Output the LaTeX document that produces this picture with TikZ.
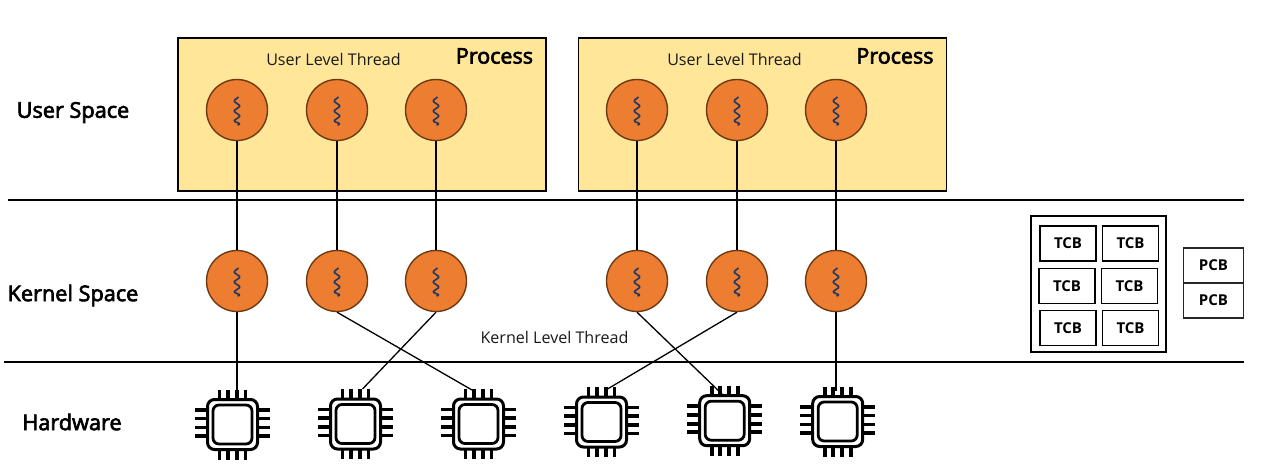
\documentclass[tikz,border=0pt]{standalone}
\usepackage{fontspec}
\setmainfont{Open Sans}
\newfontfamily\semib[FakeBold=3]{Open Sans}
\definecolor{procfill}{HTML}{FFE699}
\definecolor{thfill}{HTML}{ED7D31}
\definecolor{thline}{HTML}{6B3A12}
\definecolor{squig}{HTML}{1F3864}
\tikzset{
  x=1pt,y=-1pt,
  proc/.style={draw=black,line width=1.5pt,fill=procfill,inner sep=0,minimum width=368pt,minimum height=153pt},
  thr/.style={circle,draw=thline,line width=1.4pt,fill=thfill,inner sep=0,minimum size=61pt,
    path picture={
      \draw[squig,line width=1.6pt,line join=round,rounded corners=1.2pt,x=1pt,y=-1pt] ([shift={(1.5,-13)}]path picture bounding box.center)
        -- ++(-5,4) -- ++(7,5) -- ++(-7,5) -- ++(7,5) -- ++(-7,5) -- ++(7,3) -- ++(-3,1);
    }},
  link/.style={draw=black,line width=1.3pt},
  sep/.style={draw=black,line width=2.5pt},
  ctrl/.style={draw=black,line width=1.4pt,inner sep=0,minimum width=56pt,minimum height=35pt,font=\bfseries\fontsize{15}{17}\selectfont},
  pcbbox/.style={draw=black!85,line width=1.3pt,inner sep=0,minimum width=60pt,minimum height=35pt,font=\bfseries\fontsize{15}{17}\selectfont},
  lab/.style={font=\semib\fontsize{21.7}{24}\selectfont,inner sep=0},
  proclab/.style={font=\semib\fontsize{21.5}{26}\selectfont,inner sep=0},
  small/.style={font=\fontsize{16.1}{19}\selectfont,inner sep=0,text=black!90},
  chip/.pic={
    \foreach \s in {-13,-4.5,4.5,13}{
      \draw[black,line width=3.8pt] (\s,-35) -- (\s,-24);
      \draw[black,line width=3.8pt] (\s,24) -- (\s,35);
      \draw[black,line width=3.8pt] (-37.5,\s-1.5) -- (-24,\s-1.5);
      \draw[black,line width=3.8pt] (24,\s-1.5) -- (37.5,\s-1.5);
    }
    \draw[black,line width=3pt,fill=white,rounded corners=7pt] (-25,-25) rectangle (25,25);
    \draw[black,line width=2.8pt,fill=white,rounded corners=6pt] (-19.5,-19.5) rectangle (19.5,19.5);
    \coordinate (-top) at (0,-35);
  }
}
\begin{document}
\begin{tikzpicture}
\useasboundingbox (0,0) rectangle (1273,471);
\fill[white] (0,0) rectangle (1273,471);
% separators
\coordinate (s1a) at (8,200); \coordinate (s1b) at (1244,200);
\coordinate (s2a) at (4,362); \coordinate (s2b) at (1244,362);
\draw[sep] (s1a) -- (s1b);
\draw[sep] (s2a) -- (s2b);
% processes
\node[proc] (p1) at (362,114.5) {};
\node[proc] (p2) at (762.5,114.5) {};
\node[proclab] (pl1) at (494.5,56) {Process};
\node[proclab] (pl2) at (895,56) {Process};
\node[small] (ul1) at (333.5,59) {User Level Thread};
\node[small] (ul2) at (734.5,59) {User Level Thread};
% side labels
\node[lab] (ls) at (73,112.5) {User Space};
\node[lab] (ks) at (73,295.5) {Kernel Space};
\node[lab] (hw) at (72,422) {Hardware};
\node[small] (kl) at (554.5,337) {Kernel Level Thread};
% threads
\node[thr] (u1) at (237,110) {};
\node[thr] (u2) at (337,110) {};
\node[thr] (u3) at (436,110) {};
\node[thr] (u4) at (637,110) {};
\node[thr] (u5) at (737,110) {};
\node[thr] (u6) at (836,110) {};
\node[thr] (k1) at (237,281) {};
\node[thr] (k2) at (337,281) {};
\node[thr] (k3) at (436,281) {};
\node[thr] (k4) at (637,281) {};
\node[thr] (k5) at (737,281) {};
\node[thr] (k6) at (836,281) {};
% chips
\pic (c1) at (232.5,424.5) {chip};
\pic (c2) at (355.5,424) {chip};
\pic (c3) at (478.5,424) {chip};
\pic (c4) at (601.5,422) {chip};
\pic (c5) at (724.7,420.7) {chip};
\pic (c6) at (837.7,421.5) {chip};
% links
\foreach \i in {1,...,6}{\draw[link] (u\i.south) -- (k\i.north);}
\draw[link] (k1.south) -- ([xshift=4.5pt,yshift=-1pt]c1-top);
\draw[link] (k2.south) -- ([xshift=-6.5pt,yshift=-1pt]c3-top);
\draw[link] (k3.south) -- ([xshift=7pt]c2-top);
\draw[link] (k4.south) -- ([xshift=-2pt,yshift=-9pt]c5-top);
\draw[link] (k5.south) -- ([xshift=6pt,yshift=-2pt]c4-top);
\draw[link] (k6.south) -- ([xshift=-1.7pt,yshift=-4pt]c6-top);
% control blocks
\node[draw=black,line width=1.3pt,inner sep=0,minimum width=135pt,minimum height=136pt] (tcbs) at (1098.5,284) {};
\node[ctrl] (t1) at (1068,243.5) {TCB};
\node[ctrl] (t2) at (1130.5,243.5) {TCB};
\node[ctrl] (t3) at (1067,286) {TCB};
\node[ctrl] (t4) at (1129.5,286) {TCB};
\node[ctrl] (t5) at (1068,328) {TCB};
\node[ctrl] (t6) at (1130.5,328) {TCB};
\node[pcbbox] (b1) at (1213.5,265.5) {PCB};
\node[pcbbox] (b2) at (1213.5,300.5) {PCB};
\end{tikzpicture}
\end{document}
